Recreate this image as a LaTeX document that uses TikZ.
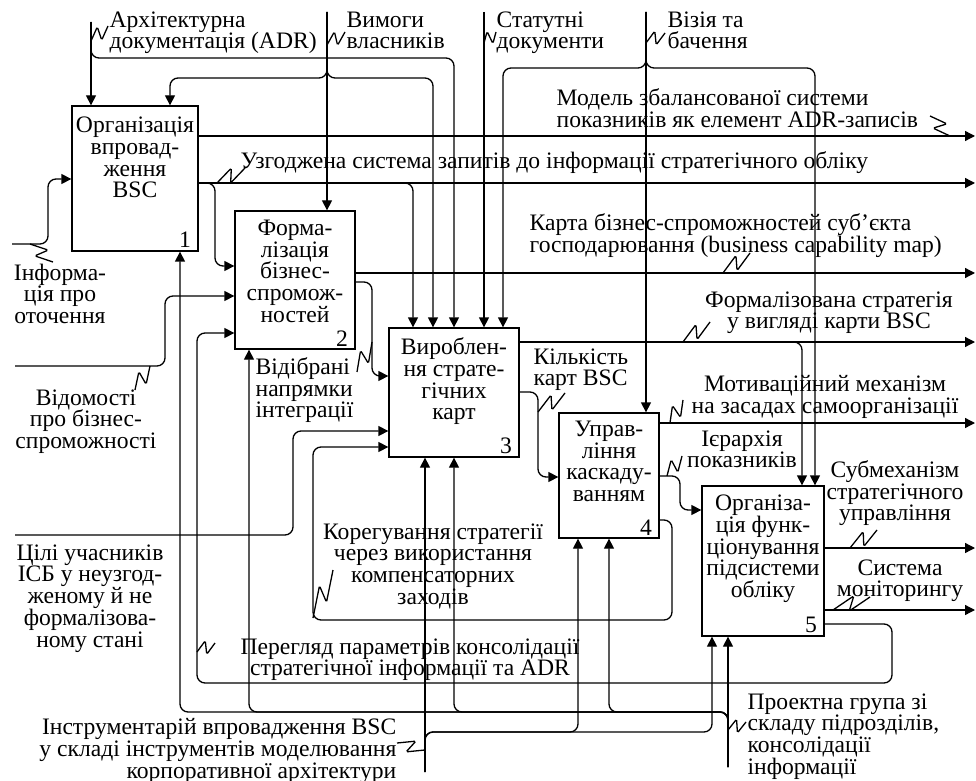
\documentclass[tikz,border=0pt]{standalone}
\usepackage{fontspec}
\setmainfont{Liberation Serif}
\usetikzlibrary{arrows.meta,calc}
\newcommand{\idef}{\fontsize{11.8}{10.85}\selectfont}
\tikzstyle{arrow} = [draw, -{Triangle[length=5pt,width=5pt]}, rounded corners=4pt]
\tikzstyle{func} = [draw, inner sep=0pt]
\tikzstyle{txt} = [inner sep=0pt, align=center, font=\idef]
\tikzstyle{num} = [inner sep=0pt, font=\idef, anchor=south east]
\newcommand{\squig}[2]{\draw[rounded corners=0.8pt] (#1) -- ($(#1)!0.62!(#2)!3.2pt!90:(#2)$) -- ($(#1)!0.38!(#2)!3.2pt!-90:(#2)$) -- (#2);}

\begin{document}
\begin{tikzpicture}[x=0.5pt, y=-0.5pt, line width=0.65pt]
      \useasboundingbox (0,0) rectangle (976,781);

      % function boxes
      \node[func, minimum width=63pt, minimum height=72.5pt] (b1) at (135,178.5) {};
      \node[func, minimum width=60pt, minimum height=69pt] (b2) at (295,280) {};
      \node[func, minimum width=65pt, minimum height=64.5pt] (b3) at (454,392.5) {};
      \node[func, minimum width=50pt, minimum height=62.5pt] (b4) at (609,475.5) {};
      \node[func, minimum width=61pt, minimum height=75pt] (b5) at (763,561) {};

      \node[txt, anchor=north] (t1) at ($(b1.north)+(0,11)$) {Організація\\впровад-\\ження\\BSC};
      \node[txt, anchor=north] (t2) at ($(b2.north)+(0,9)$) {Форма-\\лізація\\бізнес-\\спромож-\\ностей};
      \node[txt, anchor=north] (t3) at ($(b3.north)+(0,10)$) {Вироблен-\\ня страте-\\гічних\\карт};
      \node[txt, anchor=north] (t4) at ($(b4.north)+(0,8)$) {Управ-\\ління\\каскаду-\\ванням};
      \node[txt, anchor=north] (t5) at ($(b5.north)+(0,9)$) {Організа-\\ція функ-\\ціонування\\підсистеми\\обліку};
      \node[num] (n1) at ($(b1.south east)+(-7,-3)$) {1};
      \node[num] (n2) at ($(b2.south east)+(-7,-3)$) {2};
      \node[num] (n3) at ($(b3.south east)+(-7,-3)$) {3};
      \node[num] (n4) at ($(b4.south east)+(-7,-3)$) {4};
      \node[num] (n5) at ($(b5.south east)+(-7,-3)$) {5};

      % controls
      \coordinate (cADR) at (91,22);
      \coordinate (cVym) at (327,12);
      \coordinate (cStat) at (484,12);
      \coordinate (cViz) at (646,12);
      \draw[arrow] (cADR) -- (cADR |- b1.north);
      \draw[arrow] (cADR) |- (454,58) -- (b3.north -| 454,0);
      \draw[arrow] (cVym) -- (cVym |- b2.north);
      \draw[arrow] (cVym) |- (170,78) -- (b1.north -| 170,0);
      \draw[arrow] (cVym) |- (433,78) -- (b3.north -| 433,0);
      \draw[arrow] (cStat) -- (cStat |- b3.north);
      \draw[arrow] (cViz) -- (cViz |- b4.north);
      \draw[arrow] (cViz) |- (503,68) -- (b3.north -| 503,0);
      \draw[arrow] (cViz) |- (815,68) -- (b5.north -| 815,0);

      % inputs
      \coordinate (iInf) at (12,244);
      \coordinate (iVid) at (15,366);
      \coordinate (iCili) at (15,535);
      \draw[arrow] (iInf) -| (48,179) -- (b1.west |- 0,179);
      \draw[arrow] (iVid) -| (165,296) -- (b2.west |- 0,296);
      \draw[arrow] (iCili) -| (293,431) -- (b3.west |- 0,431);

      % outputs
      \coordinate (oModel) at (975,136);
      \coordinate (oUzg) at (975,183);
      \coordinate (oKarta) at (975,273);
      \coordinate (oForm) at (975,342);
      \coordinate (oMotiv) at (975,423);
      \coordinate (oSub) at (975,548);
      \coordinate (oSys) at (975,610);
      \draw[arrow] (oModel -| b1.east) -- (oModel);
      \draw[arrow] (oUzg -| b1.east) -- (oUzg);
      \draw[arrow] (oUzg -| b1.east) -| (215,266) -- (b2.west |- 0,266);
      \draw[arrow] (oUzg -| b1.east) -| (b3.north -| 413,0);
      \draw[arrow] (oKarta -| b2.east) -- (oKarta);
      \draw[arrow] (b2.east |- 0,282) -| (372,376) -- (b3.west |- 0,376);
      \draw[arrow] (oForm -| b3.east) -- (oForm);
      \draw[arrow] (oForm -| b3.east) -| (b5.north -| 802,0);
      \draw[arrow] (b3.east |- 0,392) -| (538,477) -- (b4.west |- 0,477);
      \draw[arrow] (oMotiv -| b4.east) -- (oMotiv);
      \draw[arrow] (b4.east |- 0,476) -| (680,510) -- (b5.west |- 0,510);
      \draw[arrow] (oSub -| b5.east) -- (oSub);
      \draw[arrow] (oSys -| b5.east) -- (oSys);

      % feedback
      \draw[arrow] (b4.east |- 0,520) -| (672,620) -| (313,447) -- (b3.west |- 0,447);
      \draw[arrow] (b5.east |- 0,624) -| (892,683) -| (197,333) -- (b2.west |- 0,333);

      % mechanisms
      \coordinate (mInstr) at (425,772);
      \coordinate (mProj) at (728,767);
      \draw[arrow] (mInstr) -- (mInstr |- b3.south);
      \draw[arrow] (mInstr) |- (578,732) -- (b4.south -| 578,0);
      \draw[arrow] (mInstr) |- (712,732) -- (b5.south -| 712,0);
      \draw[arrow] (mProj) -- (mProj |- b5.south);
      \draw[arrow] (mProj) |- (609,712) -- (b4.south -| 609,0);
      \draw[arrow] (mProj) |- (454,712) -- (b3.south -| 454,0);
      \draw[arrow] (mProj) |- (249,712) -- (b2.south -| 249,0);
      \draw[arrow] (mProj) |- (180,712) -- (b1.south -| 180,0);

      % labels
      \node[txt, align=left, anchor=north west] (lADR) at (109,11) {Архітектурна\\документація (ADR)};
      \node[txt, align=left, anchor=north west] (lVym) at (346,11) {Вимоги\\власників};
      \node[txt, align=left, anchor=north west] (lStat) at (496,11) {Статутні\\документи};
      \node[txt, align=left, anchor=north west] (lViz) at (667,11) {Візія та\\бачення};
      \node[txt, align=left, anchor=north west] (lModel) at (556,88) {Модель збалансованої системи\\показників як елемент ADR-записів};
      \node[txt, anchor=north west] (lUzg) at (240,151) {Узгоджена система запитів до інформації стратегічного обліку};
      \node[txt, align=left, anchor=north west] (lKarta) at (529,213) {Карта бізнес-спроможностей суб’єкта\\господарювання (business capability map)};
      \node[txt, anchor=north] (lForm) at (829,291) {Формалізована стратегія\\у вигляді карти BSC};
      \node[txt, anchor=north] (lMotiv) at (825,375) {Мотиваційний механізм\\на засадах самоорганізації};
      \node[txt, anchor=north] (lIer) at (742,430) {Ієрархія\\показників};
      \node[txt, anchor=north] (lSub) at (895,460) {Субмеханізм\\стратегічного\\управління};
      \node[txt, anchor=north] (lSys) at (900,559) {Система\\моніторингу};
      \node[txt, align=left, anchor=north west] (lKilk) at (533,348) {Кількість\\карт BSC};
      \node[txt, align=left, anchor=north west] (lVidib) at (255,357) {Відібрані\\напрямки\\інтеграції};
      \node[txt, anchor=north] (lInf) at (60,263) {Інформа-\\ція про\\оточення};
      \node[txt, anchor=north] (lVidom) at (86,389) {Відомості\\про бізнес-\\спроможності};
      \node[txt, anchor=north] (lCili) at (90,544) {Цілі учасників\\ІСБ у неузгод-\\женому й не\\формалізова-\\ному стані};
      \node[txt, anchor=north] (lKoreg) at (433,523) {Корегування стратегії\\через використання\\компенсаторних\\заходів};
      \node[txt, anchor=north] (lPeregl) at (410,638) {Перегляд параметрів консолідації\\стратегічної інформації та ADR};
      \node[txt, align=right, anchor=north east] (lInstr) at (397,718) {Інструментарій впровадження BSC\\у складі інструментів моделювання\\корпоративної архітектури};
      \node[txt, align=left, anchor=north west] (lProj) at (747,693) {Проектна група зі\\складу підрозділів,\\консолідації\\інформації};

      % squiggles
      \squig{91,41}{108,26}
      \squig{327,45}{345,32}
      \squig{484,43}{496,32}
      \squig{646,43}{665,33}
      \squig{950,136}{930,116}
      \squig{217,183}{245,168}
      \squig{723,273}{750,253}
      \squig{683,342}{710,322}
      \squig{670,423}{683,400}
      \squig{667,476}{682,456}
      \squig{538,412}{565,393}
      \squig{372,342}{357,372}
      \squig{30,244}{53,262}
      \squig{150,366}{135,390}
      \squig{313,618}{333,570}
      \squig{197,652}{215,643}
      \squig{425,750}{397,743}
      \squig{728,730}{746,722}
      \squig{850,548}{877,530}
      \squig{833,610}{870,597}
    \end{tikzpicture}
\end{document}
